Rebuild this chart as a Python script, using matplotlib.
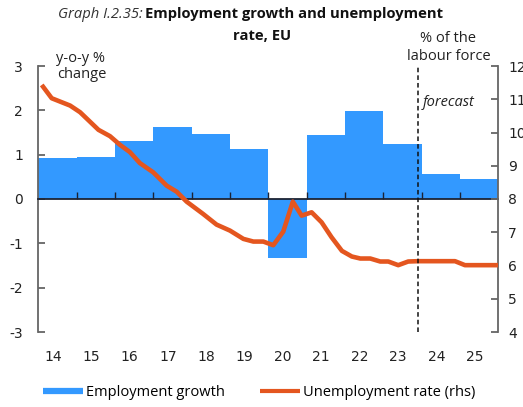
import matplotlib
matplotlib.use("Agg")
import matplotlib.pyplot as plt
import matplotlib.transforms as mtransforms
from matplotlib.lines import Line2D
import numpy as np

plt.rcParams['font.family'] = ['Open Sans', 'DejaVu Sans']

# ---- data ----
years = [2014, 2015, 2016, 2017, 2018, 2019, 2020, 2021, 2022, 2023, 2024, 2025]
year_labels = ['14', '15', '16', '17', '18', '19', '20', '21', '22', '23', '24', '25']
employment_growth = [0.92, 0.94, 1.30, 1.62, 1.47, 1.12, -1.33, 1.45, 1.99, 1.24, 0.56, 0.45]

unemp_time = [2014.09, 2014.35, 2014.83, 2015.09, 2015.57, 2015.87, 2016.13, 2016.39,
              2016.65, 2017.00, 2017.35, 2017.61, 2017.87, 2018.30, 2018.65, 2019.00,
              2019.35, 2019.61, 2019.87, 2020.13, 2020.39, 2020.64, 2020.87, 2021.13,
              2021.39, 2021.65, 2021.92, 2022.18, 2022.40, 2022.66, 2022.92, 2023.13,
              2023.39, 2023.65, 2023.91, 2024.21, 2024.57, 2024.87, 2025.13, 2025.61,
              2026.00]
unemp_rate = [11.43, 11.03, 10.81, 10.61, 10.08, 9.89, 9.63, 9.41,
              9.08, 8.80, 8.40, 8.22, 7.92, 7.55, 7.23, 7.05,
              6.80, 6.72, 6.72, 6.61, 7.02, 7.92, 7.50, 7.60,
              7.30, 6.85, 6.44, 6.27, 6.21, 6.21, 6.12, 6.12,
              6.01, 6.12, 6.13, 6.13, 6.13, 6.13, 6.01, 6.01,
              6.01]
forecast_start = 2023.91

# ---- styling ----
BLUE = '#3399FF'
ORANGE = '#E4561F'
SPINE = '#666666'
DARK = '#1c2333'
TXT = '#222222'
TICK_FONT = dict(family='DejaVu Sans', size=10)
W, H = 523, 407

fig = plt.figure(figsize=(W / 100, H / 100), dpi=100)
ax = fig.add_axes([38.3 / W, 1 - 332 / H, (498.3 - 38.3) / W, (332 - 66) / H])

centers = np.array(years) + 0.5
ax.bar(centers, employment_growth, width=1.0, color=BLUE, zorder=1, linewidth=0)
ax.set_xlim(years[0], years[-1] + 1)
ax.set_ylim(-3, 3)
ax.set_yticks(range(-3, 4))
ax.set_yticklabels([str(v) for v in range(-3, 4)], fontdict=TICK_FONT)

for s in ['top', 'right']:
    ax.spines[s].set_visible(False)
ax.spines['left'].set_color(SPINE)
ax.spines['left'].set_linewidth(1.3)
ax.spines['bottom'].set_position(('data', 0))
ax.spines['bottom'].set_color(DARK)
ax.spines['bottom'].set_linewidth(1.3)
ax.spines['bottom'].set_zorder(3)
ax.set_xticks(np.array(years[1:]))
ax.tick_params(axis='x', direction='in', length=5, width=1.0, color=DARK,
               labelbottom=False)
ax.tick_params(axis='y', direction='in', length=5, width=1.3, color=SPINE,
               pad=11, labelcolor=TXT)

# year labels below the plot
sec = ax.secondary_xaxis('bottom')
sec.spines['bottom'].set_visible(False)
sec.set_xticks(centers)
sec.set_xticklabels(year_labels, fontdict=TICK_FONT)
sec.tick_params(length=0, pad=13, labelcolor=TXT)
shift = mtransforms.ScaledTranslation(-4.5 / 100, 0, fig.dpi_scale_trans)
for lbl in sec.get_xticklabels():
    lbl.set_transform(lbl.get_transform() + shift)

# unemployment rate on the right axis
ax2 = ax.twinx()
ax2.plot(unemp_time, unemp_rate, color=ORANGE, lw=3.3, solid_capstyle='butt',
         solid_joinstyle='round', zorder=4)
ax2.set_ylim(4, 12)
ax2.set_yticks(range(4, 13))
ax2.set_yticklabels([str(v) for v in range(4, 13)], fontdict=TICK_FONT)
for s in ['top', 'left', 'bottom']:
    ax2.spines[s].set_visible(False)
ax2.spines['right'].set_color(SPINE)
ax2.spines['right'].set_linewidth(1.3)
ax2.tick_params(axis='y', direction='in', length=5, width=1.3, color=SPINE,
                pad=7, labelcolor=TXT)

ax2.axvline(forecast_start, color='#111111', lw=1.1, ls=(0, (3, 2)), zorder=5)

# annotations
def fx(px):
    return px / W

def fy(py):
    return 1 - py / H

fig.text(fx(423), fy(102), 'forecast', style='italic', fontsize=10.5,
         ha='left', va='center', color=TXT)
fig.text(fx(81), fy(59), 'y-o-y %', fontsize=10.5, ha='center', va='center',
         color=TXT)
fig.text(fx(82), fy(75), 'change', fontsize=10.5, ha='center', va='center',
         color=TXT)
fig.text(fx(448.5), fy(38), '% of the', fontsize=10.5, ha='center', va='center',
         color=TXT)
fig.text(fx(449), fy(56), 'labour force', fontsize=10.5, ha='center',
         va='center', color=TXT)

# title
fig.text(fx(145), fy(14), 'Employment growth and unemployment',
         fontweight='bold', fontsize=10.6, ha='left', va='center', color='#111111')
fig.text(fx(143), fy(14), 'Graph I.2.35:', style='italic', fontsize=10.6,
         ha='right', va='center', color='#333333')
fig.text(fx(262), fy(36), 'rate, EU', fontweight='bold', fontsize=10.6,
         ha='center', va='center', color='#111111')

# legend
handles = [Line2D([], [], color=BLUE, lw=4.5, solid_capstyle='butt'),
           Line2D([], [], color=ORANGE, lw=3.0, solid_capstyle='butt')]
fig.legend(handles, ['Employment growth', 'Unemployment rate (rhs)'],
           loc='center', bbox_to_anchor=(fx(259.5), fy(393)), ncol=2,
           frameon=False, fontsize=10.5, handlelength=2.7, handletextpad=0.25,
           columnspacing=2.4, borderpad=0, borderaxespad=0)

fig.savefig('out.png', dpi=100)
